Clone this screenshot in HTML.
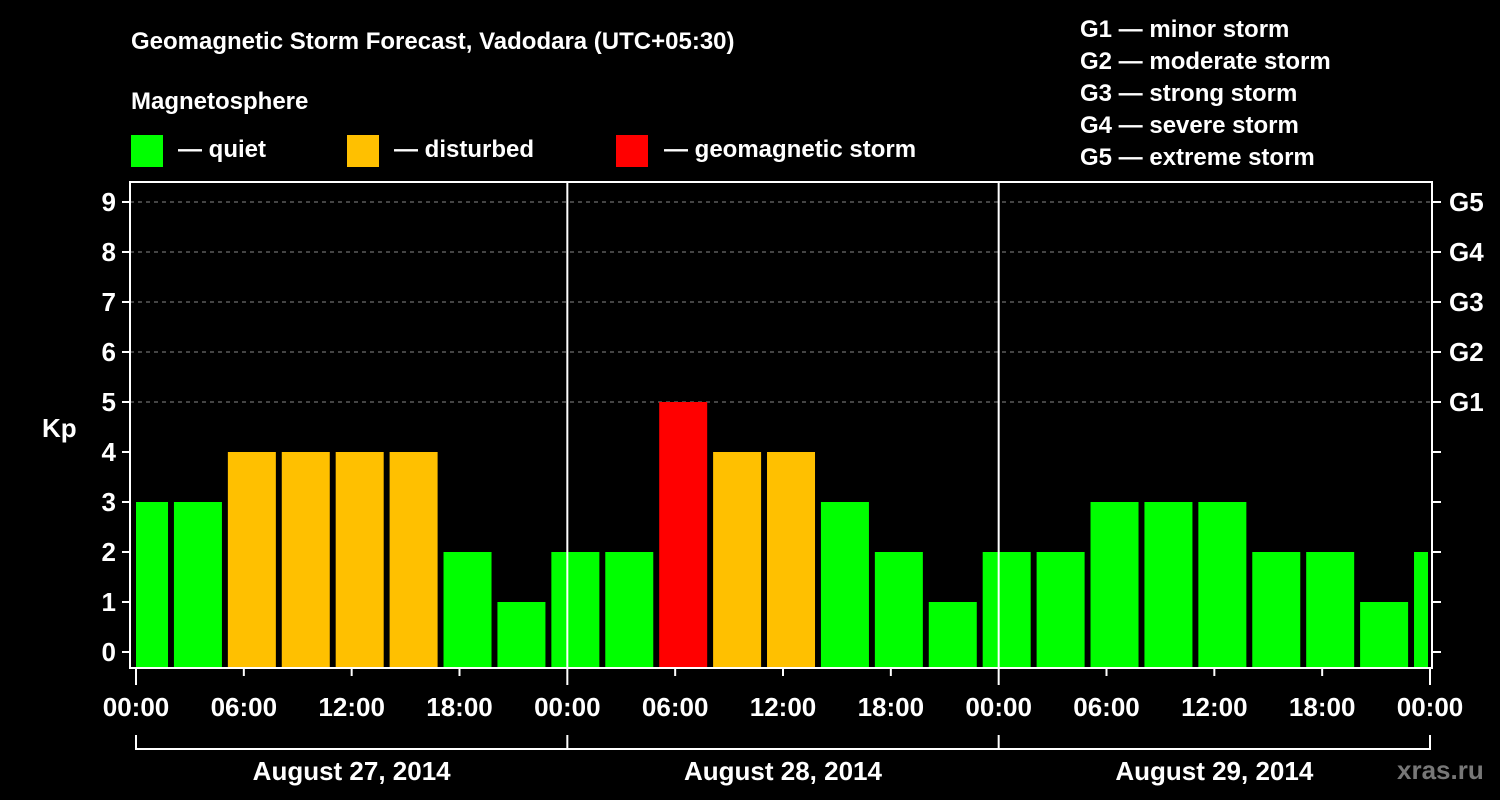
<!DOCTYPE html>
<html><head><meta charset="utf-8"><style>
html,body{margin:0;padding:0;background:#000;}
svg{display:block;font-family:"Liberation Sans",Arial,sans-serif;font-weight:bold;}
</style></head><body>
<svg id="chart" width="1500" height="800" viewBox="0 0 1500 800">
<rect width="1500" height="800" fill="#000"/>
<text x="131" y="49" fill="#fff" font-size="24">Geomagnetic Storm Forecast, Vadodara (UTC+05:30)</text>
<text x="131" y="109" fill="#fff" font-size="24">Magnetosphere</text>
<g><rect x="131" y="135" width="32" height="32" fill="#00ff00"/><text x="178" y="157" fill="#fff" font-size="24">— quiet</text></g>
<g><rect x="347" y="135" width="32" height="32" fill="#ffc000"/><text x="394" y="157" fill="#fff" font-size="24">— disturbed</text></g>
<g><rect x="616" y="135" width="32" height="32" fill="#ff0000"/><text x="664" y="157" fill="#fff" font-size="24">— geomagnetic storm</text></g>
<g fill="#fff" font-size="24">
<text x="1080" y="37">G1 — minor storm</text>
<text x="1080" y="69">G2 — moderate storm</text>
<text x="1080" y="101">G3 — strong storm</text>
<text x="1080" y="133">G4 — severe storm</text>
<text x="1080" y="165">G5 — extreme storm</text>
</g>
<text x="42" y="437" fill="#fff" font-size="26">Kp</text>
<text x="1397" y="779" fill="#777" font-size="26">xras.ru</text>
<g id="grid"></g><g id="bars"></g><g id="axes"></g>
</svg>
<script>
const kpValues=[3,3,4,4,4,4,2,1,2,2,5,4,4,3,2,1,2,2,3,3,3,2,2,1,2];
const yTicks=[0,1,2,3,4,5,6,7,8,9];
const gLabels=['G1','G2','G3','G4','G5'];
const gLevels=[5,6,7,8,9];
const xTickLabels=['00:00','06:00','12:00','18:00','00:00','06:00','12:00','18:00','00:00','06:00','12:00','18:00','00:00'];
const dayLabels=['August 27, 2014','August 28, 2014','August 29, 2014'];
const barStartHour=-0.889;
const NS='http://www.w3.org/2000/svg';
const L=130,R=1432,T=182,B=668;
const x=h=>136+h*(1294/72);
const y=v=>652-v*50;
function mk(tag,attrs,parent){const e=document.createElementNS(NS,tag);for(const k in attrs)e.setAttribute(k,attrs[k]);parent.appendChild(e);return e;}
const grid=document.getElementById('grid'),bars=document.getElementById('bars'),axes=document.getElementById('axes');
gLevels.forEach((v,i)=>{
  const ln=mk('line',{x1:L,x2:R,y1:y(v),y2:y(v),stroke:'#888','stroke-dasharray':'4 4','stroke-width':1},grid);
  
  
});
kpValues.forEach((v,i)=>{
  const h0=barStartHour+3*i;
  let x0=x(h0),x1=x0+48;
  x0=Math.max(x0,136);x1=Math.min(x1,1428);
  const col=v>=5?'#ff0000':(v>=4?'#ffc000':'#00ff00');
  const r=mk('rect',{x:x0,y:y(v),width:Math.max(0,x1-x0),height:B-y(v),fill:col},bars);
  
  
});
// day separators
[1,2].forEach(d=>{
  const ln=mk('line',{x1:x(24*d),x2:x(24*d),y1:T,y2:B,stroke:'#fff','stroke-width':2},axes);
  
  
});
const frame=mk('rect',{x:L,y:T,width:R-L,height:B-T,fill:'none',stroke:'#fff','stroke-width':2},axes);


yTicks.forEach(v=>{
  mk('line',{x1:L-8,x2:L,y1:y(v),y2:y(v),stroke:'#fff','stroke-width':2},axes);
  mk('line',{x1:R,x2:R+9,y1:y(v),y2:y(v),stroke:'#fff','stroke-width':2},axes);
  const t=mk('text',{x:116,y:y(v)+9,fill:'#fff','font-size':26,'text-anchor':'end'},axes);
  t.textContent=v;
  
  
});
gLabels.forEach((g,i)=>{
  const t=mk('text',{x:1449,y:y(gLevels[i])+9,fill:'#fff','font-size':26},axes);
  t.textContent=g;
  
  
});
xTickLabels.forEach((s,i)=>{
  const xx=x(6*i),major=i%4===0;
  mk('line',{x1:xx,x2:xx,y1:B,y2:B+(major?17:8),stroke:'#fff','stroke-width':2},axes);
  const t=mk('text',{x:xx,y:716,fill:'#fff','font-size':26,'text-anchor':'middle'},axes);
  t.textContent=s;
  
  
});
mk('line',{x1:x(0),x2:x(72),y1:749,y2:749,stroke:'#fff','stroke-width':2},axes);
[0,1,2,3].forEach(d=>mk('line',{x1:x(24*d),x2:x(24*d),y1:735,y2:750,stroke:'#fff','stroke-width':2},axes));
dayLabels.forEach((s,i)=>{
  const t=mk('text',{x:x(24*i+12),y:780,fill:'#fff','font-size':26,'text-anchor':'middle'},axes);
  t.textContent=s;
  
  
});
</script>
</body></html>
